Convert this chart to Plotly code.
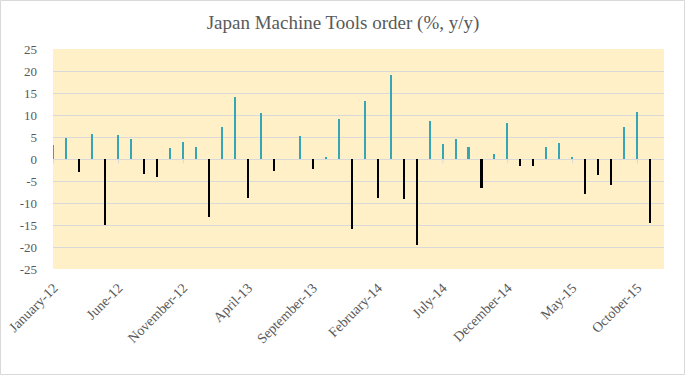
import plotly.graph_objects as go

month_names = ["January", "February", "March", "April", "May", "June", "July",
               "August", "September", "October", "November", "December"]
years = ["12", "13", "14", "15"]
n_months = 47  # Jan-12 .. Nov-15
categories = [f"{month_names[i % 12]}-{years[i // 12]}" for i in range(n_months)]

values = [3.2, 4.8, -2.9, 5.7, -14.9, 5.5, 4.5, -3.3, -4.2, 2.5, 3.9, 2.7,
          -13.1, 7.3, 14.1, -8.8, 10.5, -2.7, 0.0, 5.2, -2.2, 0.5, 9.1, -15.8,
          13.2, -8.8, 19.1, -9.2, -19.5, 8.6, 3.4, 4.5, 2.7, -6.5, 1.1, 8.2,
          -1.7, -1.5, 2.7, 3.6, 0.5, -7.9, -3.6, -5.8, 7.3, 10.7, -14.5]

tick_labels = ["January-12", "June-12", "November-12", "April-13", "September-13",
               "February-14", "July-14", "December-14", "May-15", "October-15"]

y_ticks = list(range(-25, 30, 5))

POS = "#33a7b8"
NEG = "#000000"
GRID = "#d9d9d9"
TXT = "#595959"
FONT = "Liberation Serif"

colors = [POS if v >= 0 else NEG for v in values]

fig = go.Figure()
fig.add_trace(go.Bar(x=categories, y=values, marker=dict(color=colors, line=dict(width=0)),
                     width=0.12, showlegend=False))

# small tick marks on the zero line
for lab in tick_labels:
    fig.add_shape(type="line", xref="x", yref="y", x0=lab, x1=lab, y0=0, y1=-1.0,
                  line=dict(color=GRID, width=1), layer="below")

W, H = 686, 376
L, R, T, B = 53, 22, 49, 107
pw, ph = W - L - R, H - T - B
fig.add_shape(type="rect", xref="paper", yref="paper",
              x0=(0.5 - L) / pw, x1=(W - 1.5 - L) / pw,
              y0=-(B - 1.5) / ph, y1=1 + (T - 0.5) / ph,
              line=dict(color=GRID, width=1), fillcolor="rgba(0,0,0,0)")

fig.update_layout(
    width=W, height=H,
    margin=dict(l=L, r=R, t=T, b=B, autoexpand=False),
    paper_bgcolor="white",
    plot_bgcolor="#fff0c8",
    title=dict(text="Japan Machine Tools order (%, y/y)", x=0.5, xanchor="center",
               y=1 - 22 / H, yanchor="middle",
               font=dict(family=FONT, size=19, color=TXT)),
    font=dict(family=FONT, color=TXT),
    bargap=0,
)
fig.update_xaxes(type="category", range=[-0.05, n_months + 0.05], automargin=False,
                 tickmode="array", tickvals=tick_labels, ticktext=tick_labels,
                 tickangle=-45, tickfont=dict(family=FONT, size=14, color=TXT),
                 showgrid=False, showline=False, ticks="", zeroline=False,
                 ticklabelstandoff=7)
fig.update_yaxes(range=[-25, 25], tickmode="array", tickvals=y_ticks, automargin=False,
                 ticktext=[str(v) for v in y_ticks],
                 tickfont=dict(family=FONT, size=13, color=TXT),
                 showgrid=True, gridcolor=GRID, gridwidth=1,
                 zeroline=True, zerolinecolor=GRID, zerolinewidth=1,
                 showline=False, ticks="", ticklabelstandoff=15)

fig.write_html("out.html", config={"displayModeBar": False},
               post_script="document.body.style.margin='0';")
